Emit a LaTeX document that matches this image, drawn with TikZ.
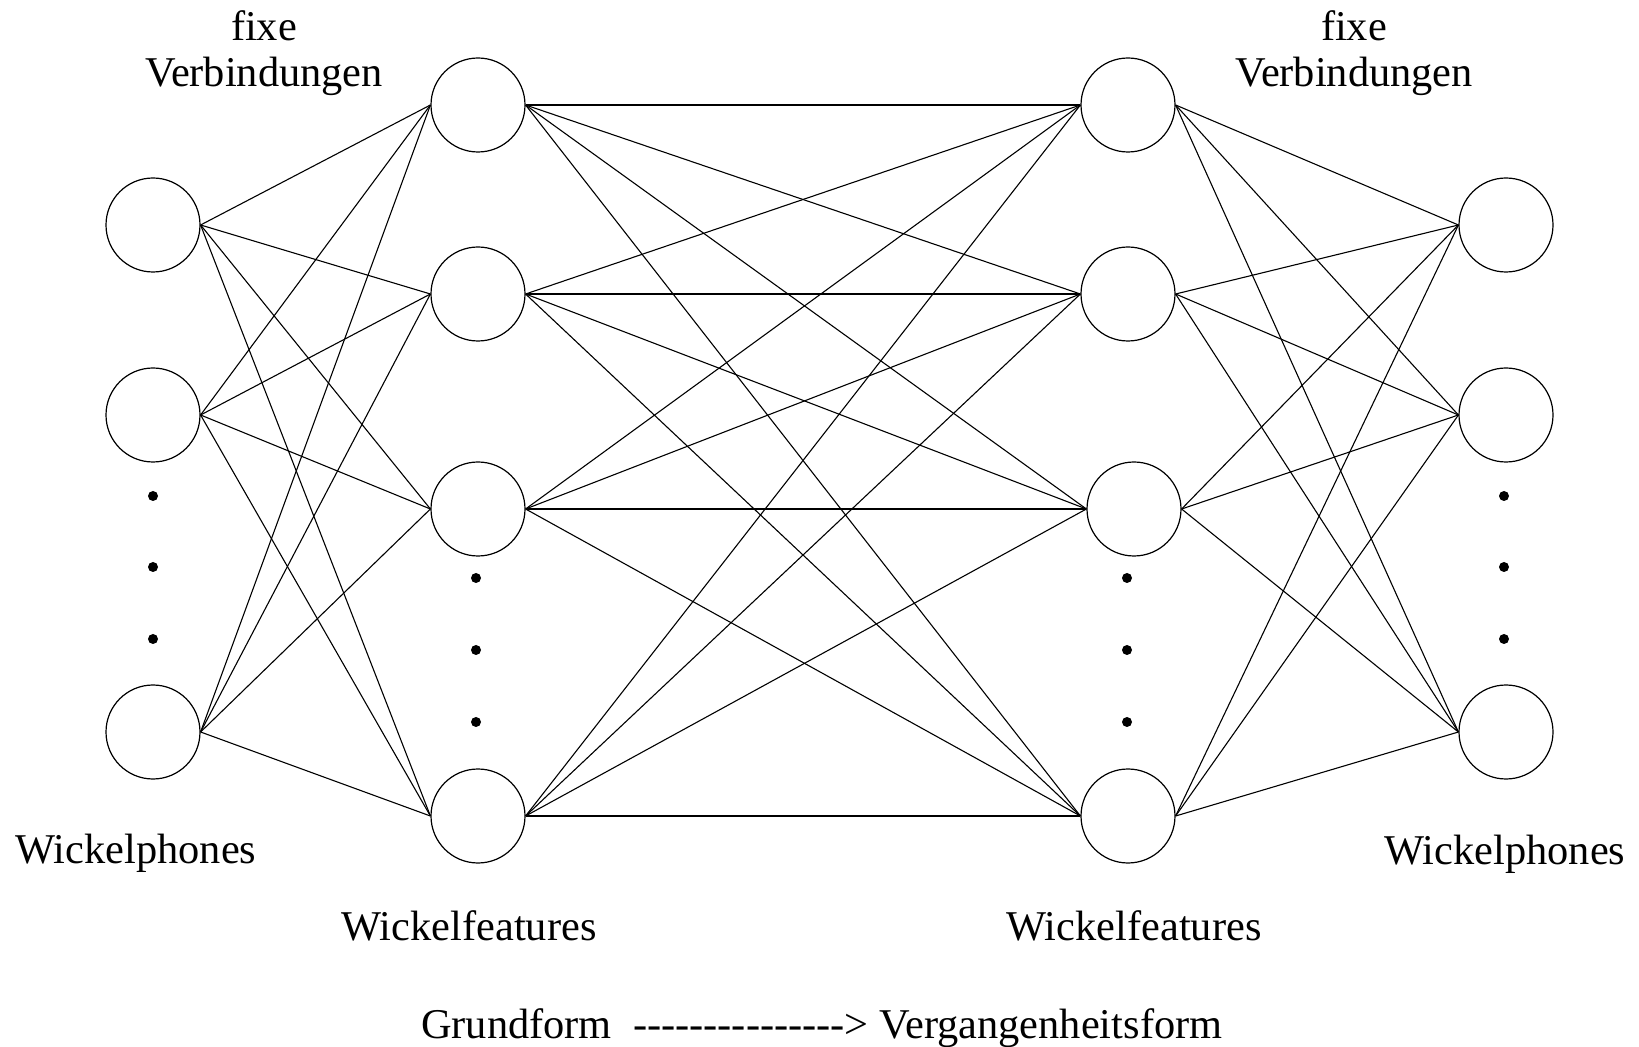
\documentclass[tikz,border=0pt]{standalone}
\usepackage{fontspec}
\setmainfont{Liberation Serif}
\newcommand\hyph{\mbox{-}}
\begin{document}
\begin{tikzpicture}[x=0.5pt,y=-0.5pt,
  unit/.style={circle,draw,line width=0.6pt,minimum size=47pt,inner sep=0pt},
  conn/.style={line width=0.55pt},
  lbl/.style={font=\fontsize{21.2pt}{25pt}\selectfont,inner sep=0pt,anchor=base},
  dotn/.style={circle,fill,inner sep=0pt,minimum size=5pt}]
\useasboundingbox (0,0) rectangle (1639,1047);
% column 1
\node[unit] (a1) at (153,225) {};
\node[unit] (a2) at (153,415) {};
\node[unit] (a3) at (153,732) {};
% column 2
\node[unit] (b1) at (478,105) {};
\node[unit] (b2) at (478,294) {};
\node[unit] (b3) at (478,509) {};
\node[unit] (b4) at (478,816) {};
% column 3
\node[unit] (c1) at (1128,105) {};
\node[unit] (c2) at (1128,294) {};
\node[unit] (c3) at (1134,509) {};
\node[unit] (c4) at (1128,816) {};
% column 4
\node[unit] (d1) at (1506,225) {};
\node[unit] (d2) at (1506,415) {};
\node[unit] (d3) at (1506,732) {};
% connections
\foreach \i in {1,2,3} \foreach \j in {1,2,3,4} \draw[conn] (a\i.east) -- (b\j.west);
\foreach \i in {1,2,3,4} \foreach \j in {1,2,3,4} \draw[conn] (b\i.east) -- (c\j.west);
\foreach \i in {1,2,3,4} \foreach \j in {1,2,3} \draw[conn] (c\i.east) -- (d\j.west);
% dots
\node[dotn] (p1) at (153,496) {};
\node[dotn] (p2) at (153,567) {};
\node[dotn] (p3) at (153,639) {};
\node[dotn] (q1) at (476,578) {};
\node[dotn] (q2) at (476,650) {};
\node[dotn] (q3) at (476,722) {};
\node[dotn] (r1) at (1127,578) {};
\node[dotn] (r2) at (1127,650) {};
\node[dotn] (r3) at (1127,722) {};
\node[dotn] (s1) at (1504,496) {};
\node[dotn] (s2) at (1504,567) {};
\node[dotn] (s3) at (1504,639) {};
% labels
\node[lbl] (t1) at (264,40.7) {fixe};
\node[lbl] (t2) at (264,87) {Verbindungen};
\node[lbl] (t3) at (1354,40.7) {fixe};
\node[lbl] (t4) at (1354,87) {Verbindungen};
\node[lbl] (t5) at (136,863) {Wickelphones};
\node[lbl] (t6) at (1505,864) {Wickelphones};
\node[lbl] (t7) at (469,940) {Wickelfeatures};
\node[lbl] (t8) at (1134,940) {Wickelfeatures};
\node[lbl,anchor=base west] (t9) at (420.7,1038) {Grundform\ \ \hyph\hyph\hyph\hyph\hyph\hyph\hyph\hyph\hyph\hyph\hyph\hyph\hyph\hyph\hyph> Vergangenheitsform};
\end{tikzpicture}
\end{document}
